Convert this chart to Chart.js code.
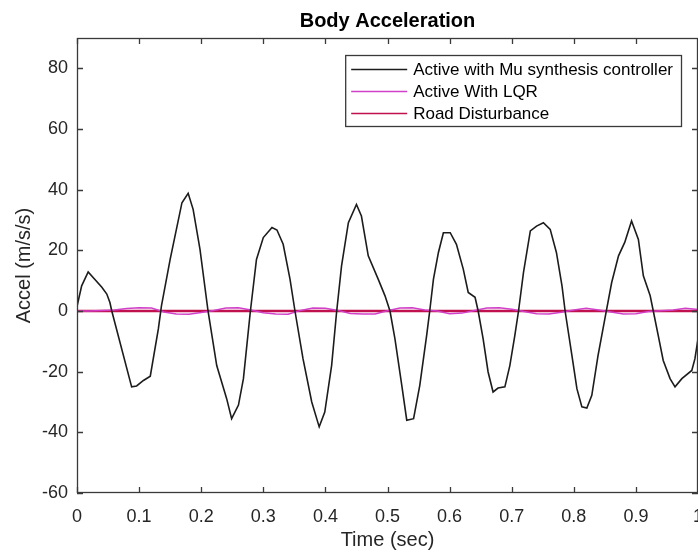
<!DOCTYPE html>
<html>
<head>
<meta charset="utf-8">
<title>Body Acceleration</title>
<script src="https://cdn.jsdelivr.net/npm/chart.js@4.4.1/dist/chart.umd.min.js"></script>
<style>
  html, body { margin: 0; padding: 0; overflow: hidden; background: #fff; }
  #wrap { width: 712px; height: 552px; }
</style>
</head>
<body>
<div id="wrap"><canvas id="chart" width="712" height="552"></canvas></div>
<script>
// black curve: Mu synthesis controller
const muTime = [0, 0.0075, 0.018, 0.040, 0.048, 0.053, 0.056, 0.088, 0.096, 0.107, 0.118, 0.131, 0.136, 0.150,
  0.169, 0.179, 0.187, 0.198, 0.211, 0.225, 0.241, 0.249, 0.260, 0.268, 0.279, 0.289, 0.300, 0.314, 0.322,
  0.332, 0.343, 0.351, 0.364, 0.378, 0.390, 0.399, 0.410, 0.418, 0.426, 0.437, 0.450, 0.458, 0.469, 0.485,
  0.496, 0.504, 0.512, 0.523, 0.531, 0.542, 0.552, 0.563, 0.568, 0.574, 0.582, 0.590, 0.601, 0.611, 0.622,
  0.630, 0.641, 0.646, 0.654, 0.662, 0.670, 0.678, 0.689, 0.697, 0.705, 0.711, 0.719, 0.730, 0.740, 0.751,
  0.762, 0.772, 0.781, 0.786, 0.797, 0.805, 0.813, 0.821, 0.829, 0.839, 0.850, 0.861, 0.872, 0.882, 0.893,
  0.904, 0.912, 0.923, 0.928, 0.936, 0.944, 0.955, 0.963, 0.974, 0.990, 0.995, 1.0];
const muAccel = [1.5, 8.3, 12.9, 7.8, 5.6, 2.8, 0, -25, -24.7, -22.9, -21.5, -5.9, 1.7, 17,
  35.7, 38.8, 33.5, 20.4, 0, -18, -28.9, -35.5, -31, -22.3, -0.4, 17, 24.2, 27.5, 26.7,
  22, 10.5, 0, -15.8, -30, -38.2, -33.3, -18, -0.4, 14.9, 29.1, 35.1, 31.3, 18.2, 10.5,
  5, 0, -9.2, -24.5, -36, -35.5, -24.5, -8.1, 0, 10.5, 19.3, 25.8, 25.8, 22, 13.8,
  6.1, 4.5, 0, -9.2, -20.1, -26.7, -25.4, -25, -18, -8.1, 0, 12.7, 26.4, 28, 29.1,
  26.9, 19.3, 8.3, 0, -14.7, -25.6, -31.6, -32, -27.8, -14.7, -2.6, 9.4, 18.2, 22.6, 29.7,
  23.6, 11.6, 5, 0, -8.1, -16.3, -22.3, -25, -22.3, -19.6, -15.8, -9.2];

// magenta curve: LQR
const lqrTime = [0, 0.02, 0.04, 0.06, 0.08, 0.10, 0.12, 0.14, 0.16, 0.18, 0.20, 0.22, 0.24, 0.26, 0.28,
  0.30, 0.32, 0.34, 0.36, 0.38, 0.40, 0.42, 0.44, 0.46, 0.48, 0.50, 0.52, 0.54, 0.56, 0.58, 0.60,
  0.62, 0.64, 0.66, 0.68, 0.70, 0.72, 0.74, 0.76, 0.78, 0.80, 0.82, 0.84, 0.86, 0.88, 0.90, 0.92,
  0.94, 0.96, 0.98, 1.00];
const lqrAccel = [0, 0, 0.2, 0.3, 0.8, 1.1, 1.0, -0.3, -1.0, -1.1, -0.5, 0.2, 1.0, 1.1, 0.3,
  -0.6, -1.0, -1.1, 0.2, 1.0, 0.9, 0.2, -0.8, -1.0, -1.0, 0.1, 1.0, 1.1, 0.3, 0, -0.9,
  -0.7, 0.2, 1.0, 1.1, 0.6, -0.2, -0.9, -1.0, -0.4, 0.3, 0.9, 0.3, -0.3, -1.0, -0.9, -0.2,
  0.1, 0.3, 0.9, 0.5];

// dark red: road disturbance
const roadTime = [0, 0.1, 0.2, 0.3, 0.4, 0.5, 0.6, 0.7, 0.8, 0.9, 1.0];
const roadAccel = [0, 0, 0, 0, 0, 0, 0, 0, 0, 0, 0];

const xTicks = [0, 0.1, 0.2, 0.3, 0.4, 0.5, 0.6, 0.7, 0.8, 0.9, 1];
const yTicks = [-60, -40, -20, 0, 20, 40, 60, 80];

const SERIES_LABELS = ["Active with Mu synthesis controller", "Active With LQR", "Road Disturbance"];
const SERIES_COLORS = ["#1c1c1c", "#d040c8", "#c0104e"];

const FONT_FAMILY = "'Liberation Sans', Arial, Helvetica, sans-serif";
const AXIS_COLOR = "#3a3a3a";
const TEXT_COLOR = "#262626";
const TICK_LEN = 6;

function toPoints(xs, ys) {
  return xs.map((x, i) => ({ x, y: ys[i] }));
}

// MATLAB style box with inward ticks on all four sides
const framePlugin = {
  id: "frame",
  afterDatasetsDraw(chart) {
    const { ctx, chartArea: a, scales } = chart;
    ctx.save();
    ctx.strokeStyle = AXIS_COLOR;
    ctx.lineWidth = 1.3;
    ctx.strokeRect(a.left + 0.5, a.top + 0.5, a.right - a.left - 1, a.bottom - a.top - 1);
    ctx.beginPath();
    for (const t of scales.x.ticks) {
      const x = Math.round(scales.x.getPixelForValue(t.value)) + 0.5;
      ctx.moveTo(x, a.bottom);
      ctx.lineTo(x, a.bottom - TICK_LEN);
      ctx.moveTo(x, a.top);
      ctx.lineTo(x, a.top + TICK_LEN);
    }
    for (const t of scales.y.ticks) {
      const y = Math.round(scales.y.getPixelForValue(t.value)) + 0.5;
      ctx.moveTo(a.left, y);
      ctx.lineTo(a.left + TICK_LEN, y);
      ctx.moveTo(a.right, y);
      ctx.lineTo(a.right - TICK_LEN, y);
    }
    ctx.stroke();
    ctx.restore();
  },
};

// boxed legend in the upper right of the plot area
const legendPlugin = {
  id: "boxLegend",
  afterDraw(chart) {
    const { ctx, chartArea: a } = chart;
    const datasets = chart.data.datasets;
    ctx.save();
    ctx.font = `17px ${FONT_FAMILY}`;
    const textW = Math.max(...datasets.map((d) => ctx.measureText(d.label).width));
    const boxW = 68 + textW + 8;
    const boxH = 71;
    const right = a.right - 17;
    const left = right - boxW;
    const top = a.top + 17;

    ctx.fillStyle = "#fff";
    ctx.fillRect(left, top, boxW, boxH);
    ctx.strokeStyle = AXIS_COLOR;
    ctx.lineWidth = 1.3;
    ctx.strokeRect(left + 0.5, top + 0.5, boxW, boxH);

    datasets.forEach((d, i) => {
      const y = top + 14 + i * 22;
      ctx.strokeStyle = d.borderColor;
      ctx.lineWidth = 1.5;
      ctx.beginPath();
      ctx.moveTo(left + 6, y + 0.5);
      ctx.lineTo(left + 62, y + 0.5);
      ctx.stroke();
      ctx.fillStyle = "#000";
      ctx.textBaseline = "middle";
      ctx.textAlign = "left";
      ctx.fillText(d.label, left + 68, y + 1);
    });
    ctx.restore();
  },
};

const canvas = document.getElementById("chart");

new Chart(canvas, {
  type: "line",
  data: {
    datasets: [
      {
        label: SERIES_LABELS[0],
        data: toPoints(muTime, muAccel),
        borderColor: SERIES_COLORS[0],
        borderWidth: 1.6,
        pointRadius: 0,
        tension: 0,
      },
      {
        label: SERIES_LABELS[1],
        data: toPoints(lqrTime, lqrAccel),
        borderColor: SERIES_COLORS[1],
        borderWidth: 1.5,
        pointRadius: 0,
        tension: 0,
      },
      {
        label: SERIES_LABELS[2],
        data: toPoints(roadTime, roadAccel),
        borderColor: SERIES_COLORS[2],
        borderWidth: 2.4,
        pointRadius: 0,
        tension: 0,
      },
    ],
  },
  options: {
    responsive: false,
    animation: false,
    events: [],
    layout: { padding: { left: 0, right: 14, top: 0, bottom: 0 } },
    plugins: {
      legend: { display: false },
      tooltip: { enabled: false },
      title: {
        display: true,
        text: "Body Acceleration",
        fullSize: false,
        color: "#000",
        font: { family: FONT_FAMILY, size: 20, weight: "bold" },
        padding: { top: 9, bottom: 5 },
      },
    },
    scales: {
      x: {
        type: "linear",
        min: 0,
        max: 1,
        afterBuildTicks(scale) {
          scale.ticks = xTicks.map((v) => ({ value: v }));
        },
        afterFit(scale) {
          scale.height = 59;
          scale.paddingLeft = 0;
          scale.paddingRight = 0;
        },
        grid: { display: false, drawTicks: false },
        border: { display: false },
        ticks: {
          color: TEXT_COLOR,
          font: { family: FONT_FAMILY, size: 18 },
          padding: 13,
          maxRotation: 0,
          autoSkip: false,
          callback: (v) => String(v),
        },
        title: {
          display: true,
          text: "Time (sec)",
          color: TEXT_COLOR,
          font: { family: FONT_FAMILY, size: 20 },
          padding: { top: 0, bottom: 0 },
        },
      },
      y: {
        type: "linear",
        min: -60,
        max: 90,
        afterBuildTicks(scale) {
          scale.ticks = yTicks.map((v) => ({ value: v }));
        },
        afterFit(scale) {
          scale.width = 77;
          scale.paddingTop = 0;
          scale.paddingBottom = 0;
        },
        grid: { display: false, drawTicks: false },
        border: { display: false },
        ticks: {
          color: TEXT_COLOR,
          font: { family: FONT_FAMILY, size: 18 },
          padding: 9,
          autoSkip: false,
          callback: (v) => String(v),
        },
        title: {
          display: true,
          text: "Accel (m/s/s)",
          color: TEXT_COLOR,
          font: { family: FONT_FAMILY, size: 20 },
          padding: { top: 12, bottom: 0 },
        },
      },
    },
  },
  plugins: [framePlugin, legendPlugin],
});
</script>
</body>
</html>
